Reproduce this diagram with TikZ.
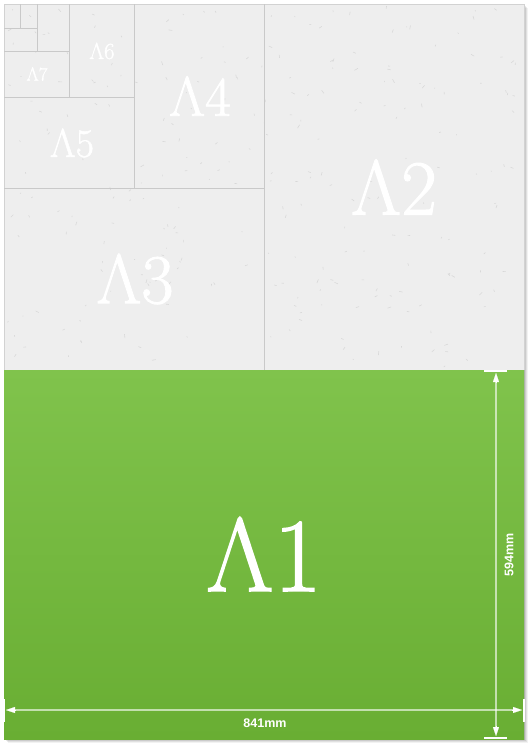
\documentclass[tikz,border=0pt]{standalone}
\usepackage{fontspec}
\newfontfamily\dimfont{Liberation Sans}
\newfontfamily\sizefont[FakeBold=1.3]{Latin Modern Roman}
\usetikzlibrary{arrows.meta}
\definecolor{pagegray}{HTML}{EEEEEE}
\definecolor{lineg}{HTML}{C9C9C9}
\definecolor{edgeg}{HTML}{D2D2D2}
\definecolor{gtop}{HTML}{80C34C}
\definecolor{gbot}{HTML}{69AE33}
\definecolor{speck}{HTML}{A8A8A8}
\begin{document}
\begin{tikzpicture}[x=1pt,y=-1pt,
  sheetline/.style={draw=lineg,line width=0.8pt},
  sizelabel/.style={text=white,inner sep=0pt,anchor=center},
  dimline/.style={draw=white,draw opacity=0.6,line width=1.3pt},
  dimtip/.style={white,line width=0.1pt,-{Triangle[width=6pt,length=9pt]}},
  dimtick/.style={draw=white,line width=1.3pt},
  dimtext/.style={text=white,font=\dimfont\bfseries\fontsize{12.5}{13}\selectfont,inner sep=0pt}]
\useasboundingbox (0,0) rectangle (529,744);
\fill[white] (0,0) rectangle (529,744);
% shadow
\foreach \d/\o in {4/0.05,3/0.07,2/0.09,1/0.12}
  \fill[black,opacity=\o] (4+\d,4+\d) rectangle (524+\d,739+\d);
% sheet
\fill[pagegray] (4,4) rectangle (524,370);
\shade[top color=gtop,bottom color=gbot] (4,370) rectangle (524,739);
% paper texture
\pgfmathsetseed{11}
\foreach \i in {1,...,260}{
  \pgfmathsetmacro\xx{8+512*rnd}
  \pgfmathsetmacro\yy{8+358*rnd}
  \pgfmathsetmacro\aa{360*rnd}
  \pgfmathsetmacro\ll{1+3*rnd}
  \draw[speck,opacity=0.3,line width=0.6pt] (\xx,\yy) -- ++(\aa:\ll);
}
% sheet outline and subdivisions
\draw[edgeg,line width=0.8pt] (4,370) -- (4,4) -- (524,4) -- (524,370);
\draw[sheetline] (264,4) -- (264,370);
\draw[sheetline] (4,188) -- (264,188);
\draw[sheetline] (134,4) -- (134,188);
\draw[sheetline] (4,97) -- (134,97);
\draw[sheetline] (69,4) -- (69,97);
\draw[sheetline] (4,51) -- (69,51);
\draw[sheetline] (37,4) -- (37,51);
\draw[sheetline] (4,28) -- (37,28);
\draw[sheetline] (20,4) -- (20,28);
% labels
\node[sizelabel,font=\sizefont\fontsize{105}{105}\selectfont] (a1) at (264,554) {Λ1};
\node[sizelabel,font=\sizefont\fontsize{78}{78}\selectfont] (a2) at (394,187) {Λ2};
\node[sizelabel,font=\sizefont\fontsize{70}{70}\selectfont] (a3) at (135,279) {Λ3};
\node[sizelabel,font=\sizefont\fontsize{56}{56}\selectfont] (a4) at (200,96) {Λ4};
\node[sizelabel,font=\sizefont\fontsize{40}{40}\selectfont] (a5) at (72,143) {Λ5};
\node[sizelabel,font=\sizefont\fontsize{23}{23}\selectfont] (a6) at (102,51) {Λ6};
\node[sizelabel,font=\sizefont\fontsize{19}{19}\selectfont] (a7) at (37,74) {Λ7};
% dimension: height
\coordinate (vt) at (496,371);
\coordinate (vb) at (496,738);
\coordinate (vtl) at (484,371);
\coordinate (vtr) at (507,371);
\coordinate (vbl) at (484,738);
\coordinate (vbr) at (507,738);
\draw[dimtick] (vtl) -- (vtr);
\draw[dimtick] (vbl) -- (vbr);
\draw[dimline] ([yshift=-9pt]vt) -- ([yshift=9pt]vb);
\draw[dimtip] ([yshift=-12pt]vt) -- ([yshift=-2pt]vt);
\draw[dimtip] ([yshift=12pt]vb) -- ([yshift=2pt]vb);
\node[dimtext,rotate=90] (hlab) at (509,555) {594mm};
% dimension: width
\coordinate (hl) at (4,710);
\coordinate (hr) at (524,710);
\coordinate (hlt) at (4,699);
\coordinate (hlb) at (4,722);
\coordinate (hrt) at (524,699);
\coordinate (hrb) at (524,722);
\draw[dimtick] (hlt) -- (hlb);
\draw[dimtick] (hrt) -- (hrb);
\draw[dimline] ([xshift=9pt]hl) -- ([xshift=-9pt]hr);
\draw[dimtip] ([xshift=12pt]hl) -- ([xshift=2pt]hl);
\draw[dimtip] ([xshift=-12pt]hr) -- ([xshift=-2pt]hr);
\node[dimtext] (wlab) at (265,723) {841mm};
\end{tikzpicture}
\end{document}
